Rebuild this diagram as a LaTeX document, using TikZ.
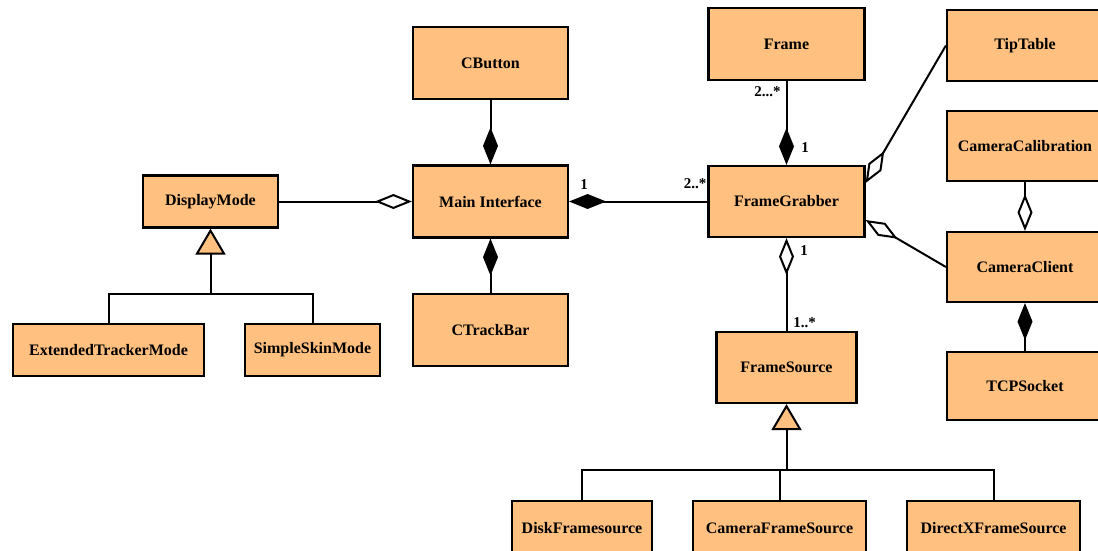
\documentclass[tikz,border=0pt]{standalone}
\usepackage{fontspec}
\setmainfont{Liberation Serif}
\usetikzlibrary{arrows.meta}
\definecolor{boxfill}{RGB}{255,192,128}
\tikzset{
  cls/.style={draw=black, line width=2.2pt, fill=boxfill, inner sep=0pt,
    font=\bfseries\fontsize{16}{19}\selectfont},
  link/.style={line width=2pt},
  comp/.style={link, -{Diamond[length=37pt,width=15pt,fill=black]}},
  aggr/.style={link, -{Diamond[length=37pt,width=15pt,fill=white]}},
  inherit/.style={link, -{Triangle[length=26pt,width=30pt,fill=boxfill]}},
  mult/.style={font=\bfseries\fontsize{15}{17}\selectfont, inner sep=0pt},
}
\begin{document}
\begin{tikzpicture}[x=1pt,y=-1pt]
\fill[white] (0,0) rectangle (1098,550);
\useasboundingbox (0,0) rectangle (1098,550);
\clip (0,0) rectangle (1098,550);

% user interface classes
\node[cls, minimum width=155pt, minimum height=72pt] (cbtn) at (490.5,63) {CButton};
\node[cls, minimum width=155pt, minimum height=72pt] (main) at (490.5,201.5) {Main Interface};
\node[cls, minimum width=155pt, minimum height=72pt] (ctrk) at (490.5,330) {CTrackBar};

% display modes
\node[cls, minimum width=135pt, minimum height=52pt] (dm) at (210.5,201.5) {DisplayMode};
\node[cls, minimum width=191pt, minimum height=52pt] (ext) at (108.5,350) {ExtendedTrackerMode};
\node[cls, minimum width=135pt, minimum height=52pt] (sim) at (312.5,350) {SimpleSkinMode};

% grabbing side
\node[cls, minimum width=156pt, minimum height=72pt] (frame) at (786.5,44) {Frame};
\node[cls, minimum width=156pt, minimum height=71pt] (fg) at (786.5,201.5) {FrameGrabber};
\node[cls, minimum width=140pt, minimum height=71pt] (fs) at (786.5,367.5) {FrameSource};

% camera side
\node[cls, minimum width=156pt, minimum height=71pt] (tip) at (1025,45.5) {TipTable};
\node[cls, minimum width=156pt, minimum height=70pt] (cal) at (1025,146) {CameraCalibration};
\node[cls, minimum width=156pt, minimum height=70pt] (cli) at (1025,267) {CameraClient};
\node[cls, minimum width=156pt, minimum height=68pt] (tcp) at (1025,386) {TCPSocket};

% frame source implementations
\node[cls, minimum width=140pt, minimum height=55pt] (disk) at (582,528.5) {DiskFramesource};
\node[cls, minimum width=173pt, minimum height=55pt] (cam) at (779.5,528.5) {CameraFrameSource};
\node[cls, minimum width=173pt, minimum height=55pt] (dx) at (993.5,528.5) {DirectXFrameSource};

% composition and aggregation
\draw[aggr] (dm.east) -- (main.west);
\draw[comp] (cbtn.south) -- (main.north);
\draw[comp] (ctrk.north) -- (main.south);
\draw[comp] (fg.west) -- (main.east);
\draw[comp] (frame.south) -- (fg.north);
\draw[aggr] (tip.west) -- ([yshift=18.5pt]fg.east);
\draw[aggr] (cli.west) -- ([yshift=-18.5pt]fg.east);
\draw[aggr] (cal.south) -- (cli.north);
\draw[comp] (tcp.north) -- (cli.south);
\draw[aggr] (fs.north) -- (fg.south);

% multiplicities
\node[mult] (m1) at (584,185) {1};
\node[mult] (m2) at (695,184) {2..*};
\node[mult] (m3) at (767.5,92) {2...*};
\node[mult] (m4) at (805,147.5) {1};
\node[mult] (m5) at (804,251) {1};
\node[mult] (m6) at (804.5,323) {1..*};

% generalization
\coordinate (jdm) at (210.5,294);
\draw[link] (ext.north) |- (jdm) -| (sim.north);
\draw[inherit] (jdm) -- (dm.south);

\coordinate (jfs) at (786.5,470);
\draw[link] (disk.north) |- (jfs) -| (dx.north);
\draw[link] (cam.north) -- (cam.north |- jfs);
\draw[inherit] (jfs) -- (fs.south);
\end{tikzpicture}
\end{document}
